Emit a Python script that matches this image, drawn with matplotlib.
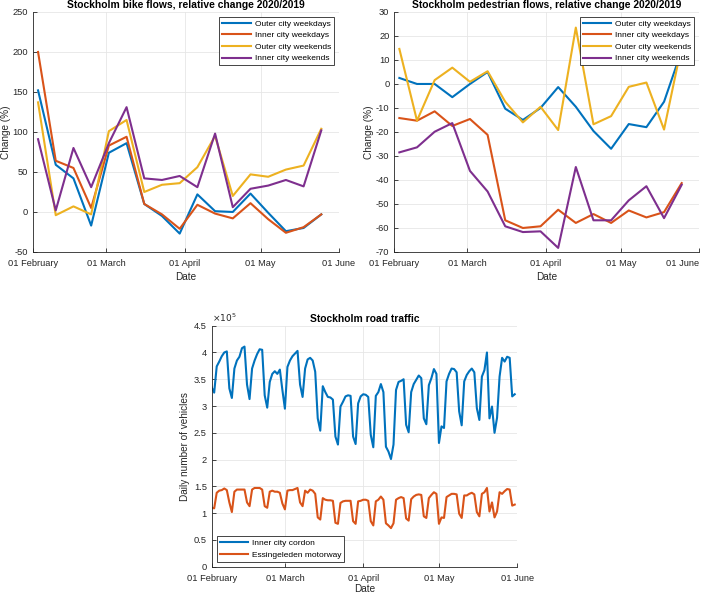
import numpy as np
import pandas as pd
import matplotlib
matplotlib.use("Agg")
import matplotlib.pyplot as plt
import matplotlib.dates as mdates
from matplotlib.ticker import FuncFormatter

plt.rcParams['font.family'] = ['Liberation Sans', 'DejaVu Sans']
plt.rcParams['axes.unicode_minus'] = False

# MATLAB default colour order
C_BLUE = '#0072BD'
C_ORANGE = '#D95319'
C_YELLOW = '#EDB120'
C_PURPLE = '#7E2F8E'

# weekly measurements (Mondays)
week_dates = pd.date_range('2020-02-03', periods=17, freq='7D')

bike_outer_wd = [152, 59, 42, -17, 74, 86, 10, -5, -27, 22, 1, 0, 23, -1, -24, -20, -3]
bike_inner_wd = [200, 64, 55, 5, 83, 94, 10, -3, -21, 9, -2, -8, 11, -9, -26, -19, -3]
bike_outer_we = [137, -4, 7, -3, 101, 115, 25, 34, 36, 56, 95, 20, 47, 44, 53, 58, 104]
bike_inner_we = [91, 2, 80, 31, 86, 131, 42, 40, 45, 31, 98, 6, 29, 33, 40, 32, 102]

ped_outer_wd = [2.5, 0, 0, -5.5, 0, 5, -10.3, -15, -10, -1.3, -9.5, -19.6, -27, -16.7, -18, -7.4, 14]
ped_inner_wd = [-14.2, -15.3, -11.4, -17.5, -14.6, -21.2, -56.8, -60, -59.3, -52.4, -57.9, -54.2,
                -57.9, -52.7, -55.6, -53.4, -41.3]
ped_outer_we = [14.6, -15.3, 1.6, 6.8, 0.9, 5.3, -7.4, -16, -9.5, -19.2, 23.5, -16.8, -13.4, -1.2,
                0.6, -19, 16]
ped_inner_we = [-28.5, -26.4, -19.9, -16.3, -36.2, -44.8, -59.3, -61.7, -61.4, -68.3, -34.6, -56.8,
                -56.8, -48.5, -42.6, -55.9, -42]

flow_labels = ['Outer city weekdays', 'Inner city weekdays', 'Outer city weekends', 'Inner city weekends']

# daily road traffic, units of 1e5 vehicles, 1 Feb - 31 May 2020
day_dates = pd.date_range('2020-02-01', '2020-05-31', freq='D')

cordon = [3.35, 3.25,
          3.74, 3.83, 3.93, 4.0, 4.02, 3.33, 3.15,
          3.7, 3.85, 3.92, 4.08, 4.11, 3.4, 3.13,
          3.7, 3.85, 3.97, 4.06, 4.05, 3.2, 2.97,
          3.45, 3.6, 3.65, 3.6, 3.68, 3.3, 2.95,
          3.73, 3.85, 3.93, 3.98, 4.03, 3.4, 3.17,
          3.7, 3.87, 3.9, 3.85, 3.64, 2.77, 2.54,
          3.37, 3.26, 3.17, 3.16, 3.12, 2.43, 2.28,
          2.99, 3.08, 3.18, 3.2, 3.19, 2.43, 2.29,
          3.05, 3.18, 3.22, 3.21, 3.17, 2.46, 2.23,
          3.19, 3.26, 3.41, 3.26, 2.24, 2.15, 2.01,
          2.28, 3.3, 3.45, 3.47, 3.5, 2.65, 2.51,
          3.26, 3.41, 3.49, 3.57, 3.52, 2.77, 2.66,
          3.39, 3.52, 3.69, 3.6, 2.31, 2.62, 2.59,
          3.46, 3.6, 3.7, 3.69, 3.63, 2.9, 2.64,
          3.46, 3.58, 3.65, 3.7, 3.63, 2.96, 2.74,
          3.55, 3.67, 4.0, 2.77, 2.99, 2.5, 2.78,
          3.55, 3.9, 3.83, 3.92, 3.9, 3.18, 3.22]

essingeleden = [1.1, 1.09,
                1.38, 1.42, 1.43, 1.46, 1.43, 1.2, 1.02,
                1.4, 1.44, 1.44, 1.44, 1.44, 1.2, 1.13,
                1.44, 1.47, 1.47, 1.47, 1.44, 1.13, 1.1,
                1.4, 1.42, 1.4, 1.4, 1.38, 1.18, 1.07,
                1.42, 1.43, 1.43, 1.45, 1.47, 1.2, 1.13,
                1.42, 1.38, 1.44, 1.42, 1.36, 0.92, 0.88,
                1.28, 1.25, 1.24, 1.24, 1.23, 0.82, 0.8,
                1.19, 1.22, 1.23, 1.23, 1.23, 0.85, 0.8,
                1.22, 1.23, 1.25, 1.25, 1.23, 0.85, 0.77,
                1.22, 1.25, 1.31, 1.25, 0.81, 0.77, 0.72,
                0.81, 1.25, 1.28, 1.3, 1.28, 0.9, 0.86,
                1.26, 1.31, 1.34, 1.35, 1.34, 0.94, 0.91,
                1.28, 1.34, 1.39, 1.36, 0.8, 0.92, 0.91,
                1.3, 1.33, 1.36, 1.36, 1.35, 0.99, 0.91,
                1.33, 1.33, 1.36, 1.38, 1.35, 1.02, 0.94,
                1.36, 1.39, 1.47, 1.03, 1.2, 0.92, 1.03,
                1.39, 1.36, 1.41, 1.45, 1.44, 1.14, 1.16]

month_ticks = pd.to_datetime(['2020-02-01', '2020-03-01', '2020-04-01', '2020-05-01', '2020-06-01'])

TXT = '#262626'


# MATLAB-ish look: box off, light grid, inward ticks
def matlab_style(ax, title, xlabelpad=3):
    ax.set_xlim(month_ticks[0], month_ticks[-1])
    ax.set_xticks(month_ticks)
    ax.xaxis.set_major_formatter(mdates.DateFormatter('%d %B'))
    for side in ['top', 'right']:
        ax.spines[side].set_visible(False)
    for side in ['left', 'bottom']:
        ax.spines[side].set_color(TXT)
        ax.spines[side].set_linewidth(0.6)
    ax.tick_params(direction='in', length=3, width=0.6, colors=TXT, labelsize=6.7)
    ax.tick_params(axis='x', pad=5)
    ax.tick_params(axis='y', pad=3.5)
    ax.grid(True, color='#e6e6e6', linewidth=0.6)
    ax.set_axisbelow(True)
    ax.set_xlabel('Date', fontsize=7.2, color=TXT, labelpad=xlabelpad)
    ax.set_title(title, fontsize=7.4, fontweight='bold', pad=3)


def add_legend(ax, loc):
    leg = ax.legend(loc=loc, fontsize=6, handlelength=3.4, labelspacing=0.45,
                    borderaxespad=0.6, fancybox=False, framealpha=1, borderpad=0.35,
                    handletextpad=0.5)
    leg.get_frame().set_edgecolor(TXT)
    leg.get_frame().set_linewidth(0.6)


fig = plt.figure(figsize=(7.11, 5.95), dpi=100)

ax1 = fig.add_axes([0.0464, 0.5765, 0.4304, 0.4034])
for vals, col, lab in zip([bike_outer_wd, bike_inner_wd, bike_outer_we, bike_inner_we],
                          [C_BLUE, C_ORANGE, C_YELLOW, C_PURPLE], flow_labels):
    ax1.plot(week_dates, vals, color=col, lw=1.5, label=lab)
ax1.set_ylim(-50, 250)
ax1.set_yticks(np.arange(-50, 251, 50))
ax1.set_ylabel('Change (%)', fontsize=7.2, color=TXT, labelpad=1)
matlab_style(ax1, 'Stockholm bike flows, relative change 2020/2019')
add_legend(ax1, 'upper right')

ax2 = fig.add_axes([0.5546, 0.5765, 0.429, 0.4034])
for vals, col, lab in zip([ped_outer_wd, ped_inner_wd, ped_outer_we, ped_inner_we],
                          [C_BLUE, C_ORANGE, C_YELLOW, C_PURPLE], flow_labels):
    ax2.plot(week_dates, vals, color=col, lw=1.5, label=lab)
ax2.set_ylim(-70, 30)
ax2.set_yticks(np.arange(-70, 31, 10))
ax2.set_ylabel('Change (%)', fontsize=7.2, color=TXT, labelpad=1)
matlab_style(ax2, 'Stockholm pedestrian flows, relative change 2020/2019')
add_legend(ax2, 'upper right')
# last date label would run off the figure edge
fig.canvas.draw()
ax2.get_xticklabels()[-1].set_horizontalalignment('right')

ax3 = fig.add_axes([0.2977, 0.0476, 0.4298, 0.405])
ax3.plot(day_dates, cordon, color=C_BLUE, lw=1.5, label='Inner city cordon')
ax3.plot(day_dates, essingeleden, color=C_ORANGE, lw=1.5, label='Essingeleden motorway')
ax3.set_ylim(0, 4.5)
ax3.set_yticks(np.arange(0, 4.51, 0.5))
ax3.yaxis.set_major_formatter(FuncFormatter(lambda v, p: '%g' % v))
ax3.set_ylabel('Daily number of vehicles', fontsize=7.2, color=TXT, labelpad=3)
matlab_style(ax3, 'Stockholm road traffic', xlabelpad=1)
ax3.text(0.0, 1.005, r'$\times 10^{5}$', transform=ax3.transAxes, fontsize=6.5,
         color=TXT, ha='left', va='bottom')
add_legend(ax3, 'lower left')

fig.savefig('out.png', dpi=100)
